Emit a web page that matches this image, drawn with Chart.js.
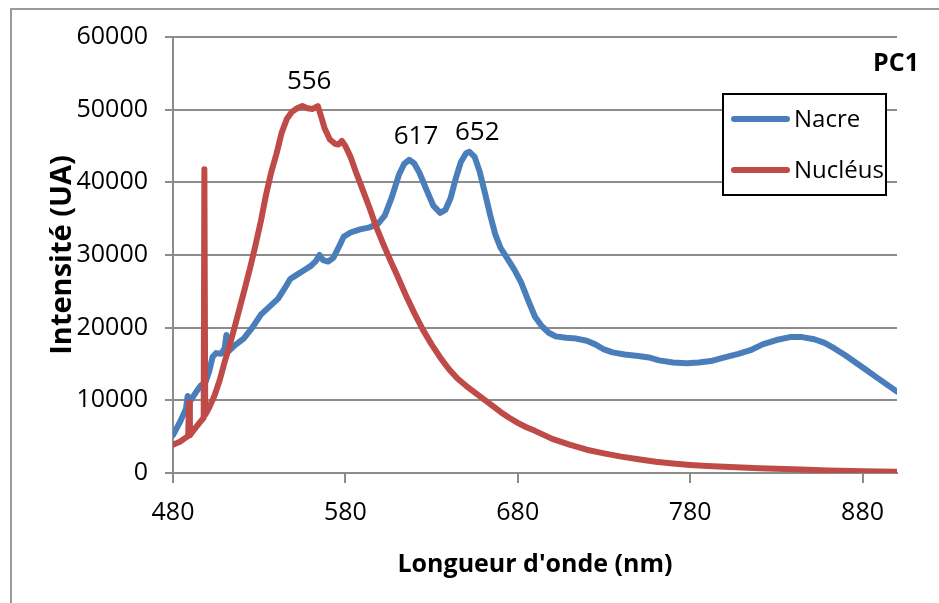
<!DOCTYPE html>
<html>
<head>
<meta charset="utf-8">
<script src="https://cdn.jsdelivr.net/npm/chart.js@4.4.1/dist/chart.umd.min.js"></script>
<style>
  body { margin: 0; background: #fff; }
  canvas { display: block; }
</style>
</head>
<body>
<canvas id="spectre" width="939" height="603"></canvas>
<script>
// wavelengths (nm) and intensities (UA)
const nacreX = [480, 484, 487.5, 488.5, 490, 493, 496, 499, 501, 503, 505, 508, 510, 511, 512.5, 516, 521, 526, 531, 536, 541, 545, 548, 552, 556, 560, 563, 565, 567, 570, 573, 576, 579, 583, 588, 594, 599, 603, 607, 611, 614, 617, 620, 623, 627, 631, 635, 638, 641, 644, 647, 650, 652, 655, 658, 661, 664, 667, 670, 674, 678, 682, 686, 690, 694, 698, 702, 708, 714, 720, 725, 730, 735, 742, 750, 756, 762, 770, 778, 785, 792, 800, 808, 815, 822, 830, 838, 845, 852, 858, 864, 870, 876, 882, 888, 894, 900];
const nacreY = [5200, 7000, 8800, 10600, 9900, 11000, 12000, 12600, 14000, 16000, 16500, 16400, 17200, 19000, 16800, 17600, 18500, 20000, 21800, 22900, 24000, 25500, 26700, 27300, 27900, 28500, 29200, 30000, 29300, 29100, 29600, 31000, 32500, 33100, 33500, 33800, 34300, 35500, 38000, 41000, 42500, 43100, 42600, 41300, 39000, 36800, 35800, 36200, 37800, 40500, 42800, 44000, 44200, 43500, 41400, 38500, 35500, 32800, 31000, 29500, 28000, 26200, 23800, 21500, 20200, 19300, 18800, 18600, 18500, 18200, 17700, 17000, 16600, 16300, 16100, 15900, 15500, 15200, 15100, 15200, 15400, 15900, 16400, 16900, 17700, 18300, 18700, 18700, 18400, 17900, 17100, 16200, 15200, 14200, 13200, 12200, 11200];

const nucleusX = [480, 484, 487, 488.8, 489.3, 489.8, 492, 495, 497.8, 498.2, 498.7, 501, 504, 507, 510, 513, 516, 519, 522, 525, 528, 531, 534, 537, 540, 543, 546, 549, 552, 555, 558, 561, 564, 566, 568, 571, 574, 576, 578, 580, 583, 586, 590, 594, 598, 602, 606, 610, 615, 620, 625, 630, 635, 640, 645, 650, 655, 660, 665, 670, 675, 680, 685, 690, 700, 710, 720, 730, 740, 750, 760, 770, 780, 790, 800, 820, 840, 860, 880, 900];
const nucleusY = [3900, 4300, 4800, 5100, 9700, 5200, 5900, 6800, 7600, 41800, 8000, 9000, 10600, 12700, 15300, 17700, 20300, 23000, 25700, 28500, 31500, 34700, 38300, 41400, 43900, 46800, 48700, 49700, 50200, 50500, 50200, 50100, 50500, 49000, 47400, 45900, 45300, 45200, 45700, 45000, 43500, 41500, 39000, 36500, 33800, 31500, 29300, 27200, 24500, 22000, 19700, 17700, 15900, 14300, 13000, 12000, 11100, 10200, 9300, 8400, 7600, 6900, 6300, 5800, 4700, 3900, 3200, 2700, 2250, 1900, 1550, 1300, 1100, 950, 850, 650, 500, 350, 250, 180];

const xTicks = [480, 580, 680, 780, 880];

// peak annotations
const peakLabels = ['556', '617', '652'];
const peakX = [559, 621, 656.5];
const peakY = [53900, 46300, 46900];

const seriesNames = ['Nacre', 'Nucléus'];
const seriesColors = ['rgb(74, 126, 187)', 'rgb(190, 75, 72)'];

const gridGray = '#8c8c8c';
const font = 'Open Sans';

function toPoints(xs, ys) {
    return xs.map((x, i) => ({ x: x, y: ys[i] }));
}

// border, legend, title and peak labels
const extras = {
    id: 'extras',
    beforeDraw(chart) {
        const ctx = chart.ctx;
        ctx.save();
        ctx.strokeStyle = '#9a9a9a';
        ctx.lineWidth = 2;
        ctx.beginPath();
        ctx.moveTo(11, 603);
        ctx.lineTo(11, 9);
        ctx.lineTo(939, 9);
        ctx.stroke();
        ctx.restore();
    },
    afterDraw(chart) {
        const ctx = chart.ctx;
        const xs = chart.scales.x, ys = chart.scales.y;
        const area = chart.chartArea;
        ctx.save();

        // peak labels
        ctx.fillStyle = '#000';
        ctx.font = '26px "' + font + '"';
        ctx.textAlign = 'center';
        ctx.textBaseline = 'middle';
        peakLabels.forEach((t, i) => {
            ctx.fillText(t, xs.getPixelForValue(peakX[i]), ys.getPixelForValue(peakY[i]));
        });

        // PC1
        ctx.font = 'bold 25px "' + font + '"';
        ctx.textAlign = 'right';
        ctx.fillText('PC1', area.right + 22, area.top + 27);

        // legend box
        const bx = area.right - 174, by = area.top + 57, bw = 163, bh = 101;
        ctx.fillStyle = '#fff';
        ctx.fillRect(bx, by, bw, bh);
        ctx.strokeStyle = '#000';
        ctx.lineWidth = 2;
        ctx.strokeRect(bx, by, bw, bh);
        ctx.font = '24px "' + font + '"';
        ctx.textAlign = 'left';
        seriesNames.forEach((name, i) => {
            const ly = by + 25 + i * 51;
            ctx.strokeStyle = seriesColors[i];
            ctx.lineWidth = 6;
            ctx.lineCap = 'round';
            ctx.beginPath();
            ctx.moveTo(bx + 11, ly);
            ctx.lineTo(bx + 64, ly);
            ctx.stroke();
            ctx.fillStyle = '#000';
            ctx.fillText(name, bx + 71, ly + 1);
        });
        ctx.restore();
    }
};

const data = {
    datasets: [{
        label: seriesNames[0],
        data: toPoints(nacreX, nacreY),
        borderColor: seriesColors[0],
        order: 1
    }, {
        label: seriesNames[1],
        data: toPoints(nucleusX, nucleusY),
        borderColor: seriesColors[1],
        order: 0
    }]
};

const config = {
    type: 'line',
    data: data,
    plugins: [extras],
    options: {
        responsive: false,
        animation: false,
        layout: { padding: { left: 10, top: 37, right: 42, bottom: 0 } },
        elements: {
            point: { radius: 0 },
            line: { borderWidth: 6, tension: 0, borderCapStyle: 'round', borderJoinStyle: 'round', fill: false }
        },
        plugins: {
            legend: { display: false },
            tooltip: { enabled: false }
        },
        scales: {
            x: {
                type: 'linear',
                min: 480,
                max: 900,
                afterBuildTicks: (scale) => { scale.ticks = xTicks.map(v => ({ value: v })); },
                afterFit: (scale) => { scale.height = 130; },
                grid: { drawOnChartArea: false, drawTicks: true, tickLength: 10, color: gridGray, lineWidth: 2 },
                border: { color: gridGray, width: 2 },
                ticks: { color: '#000', font: { family: font, size: 25 }, padding: 15, maxRotation: 0 },
                title: {
                    display: true,
                    text: "Longueur d'onde (nm)",
                    color: '#000',
                    font: { family: font, size: 25, weight: 'bold' },
                    padding: { top: 0, bottom: 23 }
                }
            },
            y: {
                min: 0,
                max: 60000,
                afterFit: (scale) => { scale.width = 163; },
                grid: { color: gridGray, lineWidth: 2, tickLength: 8 },
                border: { color: gridGray, width: 2 },
                ticks: {
                    stepSize: 10000,
                    color: '#000',
                    font: { family: font, size: 25 },
                    padding: 17,
                    callback: (v) => String(v)
                },
                title: {
                    display: true,
                    text: 'Intensité (UA)',
                    color: '#000',
                    font: { family: font, size: 29, weight: 'bold' },
                    padding: { top: 35, bottom: 0 }
                }
            }
        }
    }
};

const spectre = new Chart(document.getElementById('spectre'), config);
</script>
</body>
</html>
